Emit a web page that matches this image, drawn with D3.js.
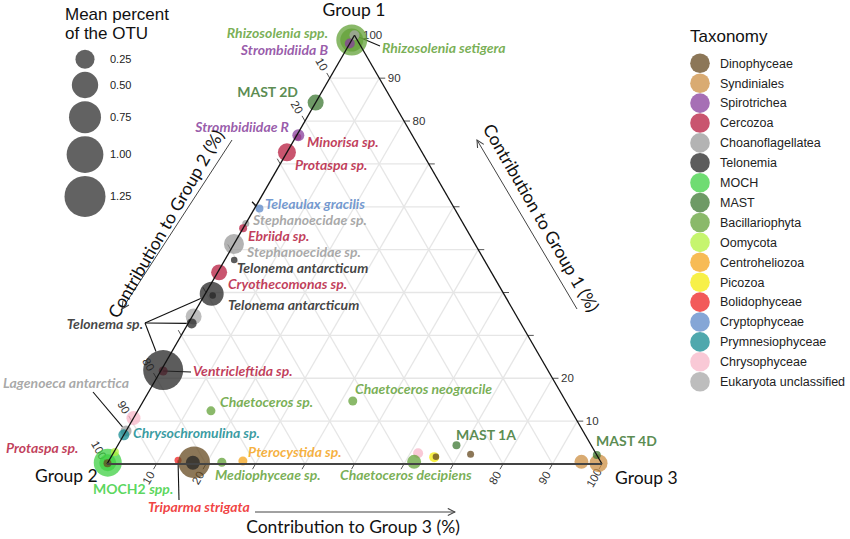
<!DOCTYPE html>
<html><head><meta charset="utf-8">
<script src="https://cdn.jsdelivr.net/npm/d3@7"></script>
<style>body{margin:0;background:#fff}svg{display:block}</style>
</head><body>
<svg id="chart" width="850" height="539"></svg>
<script>
// ---------------- DATA ----------------
const taxa = ["Dinophyceae","Syndiniales","Spirotrichea","Cercozoa","Choanoflagellatea","Telonemia","MOCH","MAST","Bacillariophyta","Oomycota","Centroheliozoa","Picozoa","Bolidophyceae","Cryptophyceae","Prymnesiophyceae","Chrysophyceae","Eukaryota unclassified"];
const taxaColors = ["#664a20","#cc8f43","#883f9c","#b71c3f","#9a9a9a","#262626","#3fd043","#3e7833","#63a238","#b3f23e","#f4a41c","#f4eb0b","#ee2323","#5c88c8","#148b92","#f7b7c8","#a7a7a7"];

// OTUs, in drawing order
const otuName = ["Rhizosolenia spp.","Rhizosolenia spp.","Rhizosolenia setigera","Strombidiida B","MAST 2D","Minorisa sp.","Strombidiidae R","Protaspa sp.","Teleaulax gracilis","Stephanoecidae sp.","Ebriida sp.","Stephanoecidae sp.","Telonema antarcticum","Cryothecomonas sp.","Telonema antarcticum","Telonema antarcticum","Eukaryota","Telonema sp.","Ventricleftida sp.","Telonema sp.","Chrysophyceae","Lagenoeca antarctica","Chrysochromulina sp.","MOCH2 spp.","MOCH2 spp.","Protaspa sp.","Oomycota","Chaetoceros sp.","Triparma strigata","Dinophyceae","Telonemia","Mediophyceae sp.","Pterocystida sp.","Chaetoceros neogracile","Chrysophyceae","Chaetoceros decipiens","Picozoa","Dinophyceae","MAST 1A","Dinophyceae","Syndiniales","Syndiniales","MAST 4D"];
const otuTaxon = ["Bacillariophyta","Bacillariophyta","Eukaryota unclassified","Spirotrichea","MAST","Cercozoa","Spirotrichea","Cercozoa","Cryptophyceae","Choanoflagellatea","Cercozoa","Choanoflagellatea","Telonemia","Cercozoa","Telonemia","Telonemia","Eukaryota unclassified","Telonemia","Cercozoa","Telonemia","Chrysophyceae","Choanoflagellatea","Prymnesiophyceae","MOCH","MOCH","Dinophyceae","Oomycota","Bacillariophyta","Bolidophyceae","Dinophyceae","Telonemia","Bacillariophyta","Centroheliozoa","Bacillariophyta","Chrysophyceae","Bacillariophyta","Picozoa","Dinophyceae","MAST","Dinophyceae","Syndiniales","Syndiniales","MAST"];
const group1 = [98.9,98.9,100,98.1,84.3,76.3,76.7,72.7,59.6,56.1,55.0,51.3,47.6,44.7,39.7,39.3,34.4,32.8,21.7,21.9,10.7,7.7,6.8,0.3,0.3,0.2,2.8,12.4,0.9,0.4,0.3,0.4,0.7,14.7,2.5,0.5,1.6,1.7,4.4,2.3,0.5,0.2,2.1];
const group2 = [1.1,1.1,0,1.9,15.7,23.3,23.0,27.3,39.4,43.9,45.0,48.7,50.5,55.0,59.0,59.0,65.3,66.5,77.8,77.7,89.3,92.3,93.2,99.7,99.7,99.8,97.0,72.8,85.2,82.2,82.5,76.6,72.2,43.0,35.9,37.7,33.1,32.7,27.2,25.4,3.9,0.6,0];
const group3 = [0,0,0,0,0,0.4,0.3,0,1.0,0,0,0,1.9,0.3,1.3,1.7,0.3,0.7,0.5,0.4,0,0,0,0,0,0,0.2,14.8,13.9,17.4,17.2,23.0,27.1,42.3,61.6,61.8,65.3,65.6,68.4,72.3,95.6,99.2,97.9];
const meanPercent = [0.70,0.375,0.049,0.049,0.167,0.01,0.082,0.219,0.021,0.01,0.021,0.277,0.005,0.167,0.41,0.005,0.167,0.049,0.034,1.19,0.122,0.065,0.065,0.569,0.192,0.021,0.021,0.034,0.01,0.733,0.122,0.034,0.034,0.034,0.049,0.122,0.049,0.005,0.021,0.01,0.122,0.219,0.021];

const sizeLegendValues = [0.25,0.50,0.75,1.00,1.25];
const tickValues = [10,20,30,40,50,60,70,80,90,100];
const leftTickLabels = [10,20,80,90,100];     // contribution to Group 2
const rightTickLabels = [100,90,80,20,10];    // contribution to Group 1
const bottomTickLabels = [10,20,80,90,100];   // contribution to Group 3

// annotation labels (text + taxon for colour)
const labelText = ["Rhizosolenia spp.","Strombidiida B","Rhizosolenia setigera","MAST 2D","Strombidiidae R","Minorisa sp.","Protaspa sp.","Teleaulax gracilis","Stephanoecidae sp.","Ebriida sp.","Stephanoecidae sp.","Telonema antarcticum","Cryothecomonas sp.","Telonema antarcticum","Telonema sp.","Ventricleftida sp.","Lagenoeca antarctica","Chrysochromulina sp.","Protaspa sp.","MOCH2 spp.","Triparma strigata","Mediophyceae sp.","Pterocystida sp.","Chaetoceros sp.","Chaetoceros neogracile","Chaetoceros decipiens","MAST 1A","MAST 4D"];
const labelTaxon = ["Bacillariophyta","Spirotrichea","Bacillariophyta","MAST","Spirotrichea","Cercozoa","Cercozoa","Cryptophyceae","Choanoflagellatea","Cercozoa","Choanoflagellatea","Telonemia","Cercozoa","Telonemia","Telonemia","Cercozoa","Choanoflagellatea","Prymnesiophyceae","Cercozoa","MOCH","Bolidophyceae","Bacillariophyta","Centroheliozoa","Bacillariophyta","Bacillariophyta","Bacillariophyta","MAST","MAST"];

// ---------------- LAYOUT ----------------
const labelLayout = [
  [328,33,"end"],[328,50,"end"],[382,48,"start"],[298,92,"end"],[289,127,"end"],[307,142,"start"],[295,165,"start"],
  [265,204,"start"],[253,220,"start"],[248,236,"start"],[247,252.5,"start"],[237,268.5,"start"],[228,284.5,"start"],[228,305,"start"],
  [143,324,"end"],[193,371,"start"],[3,383,"start"],[133,433,"start"],[6,448,"start"],[93,489,"start"],[148,507,"start"],
  [215,475,"start"],[248,452,"start"],[220,402,"start"],[355,389,"start"],[340,475,"start"],[456,435,"start"],[596,441,"start"]
];
// leader lines: [fromX, fromY, pointIndex, stopAtEdge]
const leaders = [[380,46,2,false],[145,323,14,true],[145,323,17,true],[145,323,19,true],[191,372,18,false],[93,392,21,true],[179,500,28,false],[252,202,8,true]];

const svg = d3.select("#chart");
const color = d3.scaleOrdinal().domain(taxa).range(taxaColors);
const ALPHA = 0.75;

const BASE_Y = 464, TOP_Y = 35.3, LEFT_X = 107, RIGHT_X = 602;
const yScale = d3.scaleLinear().domain([0,100]).range([BASE_Y, TOP_Y]);   // by Group 1
const xScale = d3.scaleLinear().domain([0,100]).range([LEFT_X, RIGHT_X]); // by Group 3 (+ half Group 1)
function proj(a,b,c){ const s=a+b+c; a=a/s*100; c=c/s*100; return [xScale(c + a/2), yScale(a)]; }
const areaScale = d3.scaleLinear().domain([0,1.25]).range([9,420]);
const rScale = v => Math.sqrt(areaScale(v));

// --------- grid ---------
const grid = svg.append("g").attr("stroke","#e6e6e6").attr("stroke-width",1.3).attr("fill","none");
const gv = [10,20,30,40,50,60,70,80,90];
gv.forEach(v=>{
  const segs = [[proj(v,100-v,0),proj(v,0,100-v)],[proj(100-v,v,0),proj(0,v,100-v)],[proj(100-v,0,v),proj(0,100-v,v)]];
  segs.forEach(s=>grid.append("line").attr("x1",s[0][0]).attr("y1",s[0][1]).attr("x2",s[1][0]).attr("y2",s[1][1]));
});

// --------- ticks ---------
const tk = svg.append("g").attr("stroke","#555").attr("stroke-width",1);
const c60 = 0.5, s60 = Math.sqrt(3)/2, TL = 6;
tickValues.forEach(v=>{
  let p = proj(100-v, v, 0); tk.append("line").attr("x1",p[0]).attr("y1",p[1]).attr("x2",p[0]-TL*c60).attr("y2",p[1]-TL*s60);
  p = proj(v, 0, 100-v); tk.append("line").attr("x1",p[0]).attr("y1",p[1]).attr("x2",p[0]+TL).attr("y2",p[1]);
  p = proj(0, 100-v, v); tk.append("line").attr("x1",p[0]).attr("y1",p[1]).attr("x2",p[0]-TL*c60).attr("y2",p[1]+TL*s60);
});
const tickFont = {"font-family":"Liberation Sans, Arial, sans-serif","font-size":"11.5px","fill":"#333"};
function applyAttrs(sel,o){ for(const k in o) sel.attr(k,o[k]); return sel; }
leftTickLabels.forEach(v=>{
  const p = proj(100-v, v, 0); const x=p[0]-16*c60, y=p[1]-16*s60;
  applyAttrs(svg.append("text"),tickFont).attr("text-anchor","middle").attr("dy","0.35em")
    .attr("transform",`translate(${x},${y}) rotate(60)`).text(v);
});
rightTickLabels.forEach(v=>{
  const p = proj(v, 0, 100-v);
  applyAttrs(svg.append("text"),tickFont).attr("x",p[0]+8.5).attr("y",p[1]).attr("dy","0.35em").text(v);
});
bottomTickLabels.forEach(v=>{
  const p = proj(0, 100-v, v); const x=p[0]-16*c60, y=p[1]+16*s60;
  applyAttrs(svg.append("text"),tickFont).attr("text-anchor","middle").attr("dy","0.35em")
    .attr("transform",`translate(${x},${y}) rotate(-60)`).text(v);
});

// --------- leader lines ---------
const pts = otuName.map((n,i)=>{ const p=proj(group1[i],group2[i],group3[i]); return {i, name:n, taxon:otuTaxon[i], x:p[0], y:p[1], r:rScale(meanPercent[i])}; });
const ll = svg.append("g").attr("stroke","#111").attr("stroke-width",1.1);
leaders.forEach(([fx,fy,idx,edge])=>{
  const p = pts[idx]; let tx=p.x, ty=p.y;
  if(edge){ const dx=p.x-fx, dy=p.y-fy, L=Math.hypot(dx,dy); tx=p.x-dx/L*p.r; ty=p.y-dy/L*p.r; }
  ll.append("line").attr("x1",fx).attr("y1",fy).attr("x2",tx).attr("y2",ty);
});

// --------- points (data order) ---------
svg.append("g").selectAll("circle").data(pts).join("circle")
  .attr("cx",d=>d.x).attr("cy",d=>d.y).attr("r",d=>d.r)
  .attr("fill",d=>color(d.taxon)).attr("fill-opacity",ALPHA);

// --------- triangle edges ---------
const T = proj(100,0,0), L = proj(0,100,0), R = proj(0,0,100);
svg.append("line").attr("x1",L[0]).attr("y1",L[1]).attr("x2",T[0]).attr("y2",T[1]).attr("stroke","#111").attr("stroke-width",1.3);
svg.append("line").attr("x1",T[0]).attr("y1",T[1]).attr("x2",R[0]).attr("y2",R[1]).attr("stroke","#111").attr("stroke-width",1.3);
svg.append("line").attr("x1",L[0]).attr("y1",L[1]).attr("x2",R[0]).attr("y2",R[1]).attr("stroke","#444").attr("stroke-width",2);

// --------- labels ---------
const lab = svg.append("g").attr("font-family","Lato, sans-serif").attr("font-size","14px").attr("font-weight","bold");
labelText.forEach((t,i)=>{
  const [x,y,anchor] = labelLayout[i];
  const txt = lab.append("text").attr("x",x).attr("y",y).attr("dy","0.35em").attr("text-anchor",anchor)
    .attr("fill",color(labelTaxon[i])).attr("fill-opacity",0.86);
  if(t.startsWith("MAST")) txt.text(t);
  else if(t.startsWith("MOCH2")){ txt.append("tspan").text("MOCH2 "); txt.append("tspan").attr("font-style","italic").text("spp."); }
  else txt.attr("font-style","italic").text(t);
});

// --------- group names & axis titles ---------
const gf = {"font-family":"Lato, sans-serif","font-size":"17.5px","fill":"#111"};
applyAttrs(svg.append("text"),gf).attr("x",354).attr("y",10).attr("dy","0.35em").attr("text-anchor","middle").text("Group 1");
applyAttrs(svg.append("text"),gf).attr("x",35).attr("y",476).attr("dy","0.35em").text("Group 2");
applyAttrs(svg.append("text"),gf).attr("x",615).attr("y",478).attr("dy","0.35em").text("Group 3");

const defs = svg.append("defs");
defs.append("marker").attr("id","arr").attr("viewBox","0 0 10 10").attr("refX",9).attr("refY",5)
  .attr("markerWidth",9).attr("markerHeight",9).attr("markerUnits","userSpaceOnUse").attr("orient","auto")
  .append("path").attr("d","M1,1 L9,5 L1,9").attr("fill","none").attr("stroke","#444").attr("stroke-width",1.2);
function arrow(x1,y1,x2,y2){ svg.append("line").attr("x1",x1).attr("y1",y1).attr("x2",x2).attr("y2",y2).attr("stroke","#444").attr("stroke-width",1).attr("marker-end","url(#arr)"); }
arrow(232,140,122,309);
arrow(577,309,477,140);
arrow(255,512,455,512);
applyAttrs(svg.append("text"),gf).attr("text-anchor","middle").attr("dy","0.35em").attr("transform","translate(166,224) rotate(-60)").text("Contribution to Group 2 (%)");
applyAttrs(svg.append("text"),gf).attr("text-anchor","middle").attr("dy","0.35em").attr("transform","translate(541,218) rotate(60)").text("Contribution to Group 1 (%)");
applyAttrs(svg.append("text"),gf).attr("text-anchor","middle").attr("dy","0.35em").attr("x",353).attr("y",527).text("Contribution to Group 3 (%)");

// --------- size legend ---------
const sl = svg.append("g");
const lf = {"font-family":"Liberation Sans, Arial, sans-serif","font-size":"17px","fill":"#111"};
applyAttrs(sl.append("text"),lf).attr("x",65).attr("y",14).attr("dy","0.35em").text("Mean percent");
applyAttrs(sl.append("text"),lf).attr("x",65).attr("y",33).attr("dy","0.35em").text("of the OTU");
let cy = 59.3 - rScale(sizeLegendValues[0]);
sizeLegendValues.forEach((v,i)=>{
  const r = rScale(v); if(i>0) cy += 3; cy += r;
  sl.append("circle").attr("cx",85).attr("cy",cy).attr("r",r).attr("fill","#5a5a5a").attr("fill-opacity",0.95);
  sl.append("text").attr("x",110).attr("y",cy).attr("dy","0.35em").attr("font-family","Liberation Sans, Arial, sans-serif").attr("font-size","11px").attr("fill","#222").text(d3.format(".2f")(v));
  cy += r;
});

// --------- taxonomy legend ---------
const lg = svg.append("g");
applyAttrs(lg.append("text"),lf).attr("x",690).attr("y",36).attr("dy","0.35em").text("Taxonomy");
taxa.forEach((t,i)=>{
  const y = 63.3 + i*19.9;
  lg.append("circle").attr("cx",700).attr("cy",y).attr("r",9.8).attr("fill",color(t)).attr("fill-opacity",ALPHA);
  lg.append("text").attr("x",720).attr("y",y).attr("dy","0.35em").attr("font-family","Liberation Sans, Arial, sans-serif").attr("font-size","12.5px").attr("fill","#222").text(t);
});
</script>
</body></html>
